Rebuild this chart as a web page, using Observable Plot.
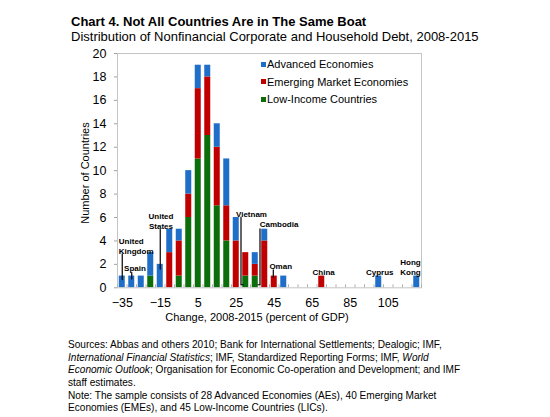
<!DOCTYPE html>
<html>
<head>
<meta charset="utf-8">
<script src="https://cdn.jsdelivr.net/npm/d3@7"></script>
<script src="https://cdn.jsdelivr.net/npm/@observablehq/plot@0.6"></script>
<style>
  html, body { margin: 0; padding: 0; background: #fff; }
  body { font-family: "Liberation Sans", Arial, sans-serif; color: #000; }
  #root { position: relative; width: 550px; height: 417px; overflow: hidden; }
  #chart { position: absolute; left: 0; top: 0; }
  .abs { position: absolute; white-space: nowrap; }
  #title { left: 71px; top: 14px; font-size: 13px; line-height: 15px; font-weight: bold; }
  #subtitle { left: 71px; top: 28.7px; font-size: 13px; line-height: 15px; }
  #legend { left: 260.5px; top: 55.5px; font-size: 11px; }
  #legend .row { display: flex; align-items: center; height: 17.5px; }
  #legend .sw { width: 5px; height: 5px; margin-right: 1.5px; }
  #ylabel { left: 85px; top: 172.5px; font-size: 11px; line-height: 12px; transform: translate(-50%, -50%) rotate(-90deg); }
  #xlabel { left: 257px; top: 316.5px; font-size: 11px; line-height: 12px; transform: translate(-50%, -50%); }
  #footer { left: 68px; top: 338.9px; font-size: 10.1px; line-height: 12.65px; }
</style>
</head>
<body>
<div id="root">
  <div id="chart"></div>
  <div id="title" class="abs">Chart 4. Not All Countries Are in The Same Boat</div>
  <div id="subtitle" class="abs">Distribution of Nonfinancial Corporate and Household Debt, 2008-2015</div>
  <div id="legend" class="abs"></div>
  <div id="ylabel" class="abs">Number of Countries</div>
  <div id="xlabel" class="abs">Change, 2008-2015 (percent of GDP)</div>
  <div id="footer" class="abs">Sources: Abbas and others 2010; Bank for International Settlements; Dealogic; IMF,<br><i>International Financial Statistics</i>; IMF, Standardized Reporting Forms; IMF, <i>World</i><br><i>Economic Outlook</i>; Organisation for Economic Co-operation and Development; and IMF<br>staff estimates.<br>Note: The sample consists of 28 Advanced Economies (AEs), 40 Emerging Market<br>Economies (EMEs), and 45 Low-Income Countries (LICs).</div>
</div>
<script>
// ---- Data ----
const bins = [-35,-30,-25,-20,-15,-10,-5,0,5,10,15,20,25,30,35,40,45,50,55,60,65,70,75,80,85,90,95,100,105,110,115,120];
const binWidth = 5;
const aeCounts  = [1,1,1,2,2,2,1,2,2,1,2,4,2,0,1,1,0,1,0,0,0,0,0,0,0,0,0,1,0,0,0,1];
const emeCounts = [0,0,0,0,0,3,3,2,6,5,5,3,4,2,1,4,1,0,0,0,0,1,0,0,0,0,0,0,0,0,0,0];
const licCounts = [0,0,0,1,0,0,1,6,11,13,7,4,0,1,1,0,0,0,0,0,0,0,0,0,0,0,0,0,0,0,0,0];
// stack order bottom -> top
const groups = ["Low-Income Countries", "Emerging Market Economies", "Advanced Economies"];
const groupColors = ["#0b6e0b", "#c00000", "#1f6fc8"];
const legendOrder = ["Advanced Economies", "Emerging Market Economies", "Low-Income Countries"];

const xTickLabels = [-35,-15,5,25,45,65,85,105];
const yTicks = [0,2,4,6,8,10,12,14,16,18,20];

// annotations (data coordinates)
const annoLabels = [
  {text: "United\nKingdom", x: -36.8, y: 3.56, anchor: "start"},
  {text: "Spain", x: -28.3, y: 1.68, anchor: "middle"},
  {text: "United\nStates", x: -14.6, y: 5.69, anchor: "middle"},
  {text: "Vietnam", x: 33.0, y: 6.32, anchor: "middle"},
  {text: "Cambodia", x: 47.5, y: 5.47, anchor: "middle"},
  {text: "Oman", x: 48.4, y: 1.88, anchor: "middle"},
  {text: "China", x: 71.0, y: 1.33, anchor: "middle"},
  {text: "Cyprus", x: 100.5, y: 1.39, anchor: "middle"},
  {text: "Hong\nKong", x: 116.7, y: 1.78, anchor: "middle"}
];
const annoLeaders = [
  {id: "uk", x: -35, y: 2.9}, {id: "uk", x: -35, y: 0.7},
  {id: "es", x: -30, y: 1.3}, {id: "es", x: -30, y: 0.75},
  {id: "us", x: -15, y: 4.97}, {id: "us", x: -15, y: 1.6},
  {id: "vn", x: 27.5, y: 6.03}, {id: "vn", x: 27.5, y: 0.26}, {id: "vn", x: 28.7, y: 0.26},
  {id: "kh", x: 37.5, y: 5.04}, {id: "kh", x: 37.5, y: 0.26}, {id: "kh", x: 36.4, y: 0.26},
  {id: "om", x: 44.5, y: 1.54}, {id: "om", x: 44.5, y: 0.9}
];

// ---- Tidy table ----
const countsByGroup = [licCounts, emeCounts, aeCounts];
const data = [];
groups.forEach((g, gi) => {
  bins.forEach((b, i) => {
    const c = countsByGroup[gi][i];
    if (c > 0) data.push({bin: b, count: c, group: g});
  });
});
const minorTicks = bins.map(b => b - binWidth / 2).concat([bins[bins.length - 1] + binWidth / 2]);
const labelStyle = {x: "x", y: "y", text: "text", fontSize: 8, fontWeight: "bold", lineHeight: 1.25, fill: "#000"};

const chart = Plot.plot({
  width: 550,
  height: 330,
  marginLeft: 117,
  marginRight: 129,
  marginTop: 53,
  marginBottom: 42.7,
  style: {fontFamily: "'Liberation Sans', Arial, sans-serif", fontSize: "12px", background: "transparent"},
  x: {domain: [bins[0] - binWidth / 2, bins[bins.length - 1] + binWidth / 2]},
  y: {domain: [0, 20]},
  color: {domain: groups, range: groupColors},
  marks: [
    Plot.rectY(data, {
      x1: d => d.bin - binWidth / 2,
      x2: d => d.bin + binWidth / 2,
      y: "count",
      fill: "group",
      insetLeft: 1.75,
      insetRight: 1.75
    }),
    Plot.frame({stroke: "#c4c4c4"}),
    Plot.axisY({ticks: yTicks, tickSize: 3, tickPadding: 8, stroke: "#a0a0a0", fill: "#000", label: null, fontSize: 12.5}),
    Plot.axisX({ticks: minorTicks, tickSize: 3, dy: -3, stroke: "#b0b0b0", tickFormat: () => "", label: null}),
    Plot.axisX({ticks: xTickLabels, tickSize: 0, tickPadding: 10.5, fill: "#000", label: null, fontSize: 12.5}),
    Plot.line(annoLeaders, {x: "x", y: "y", z: "id", stroke: "#000", strokeWidth: 1.2}),
    Plot.text(annoLabels.filter(d => d.anchor === "start"), {...labelStyle, textAnchor: "start"}),
    Plot.text(annoLabels.filter(d => d.anchor === "middle"), {...labelStyle, textAnchor: "middle"})
  ]
});
document.getElementById("chart").appendChild(chart);

// legend
const legend = document.getElementById("legend");
legendOrder.forEach(name => {
  const row = document.createElement("div");
  row.className = "row";
  const sw = document.createElement("span");
  sw.className = "sw";
  sw.style.background = groupColors[groups.indexOf(name)];
  const t = document.createElement("span");
  t.textContent = name;
  row.appendChild(sw);
  row.appendChild(t);
  legend.appendChild(row);
});
</script>
</body>
</html>
